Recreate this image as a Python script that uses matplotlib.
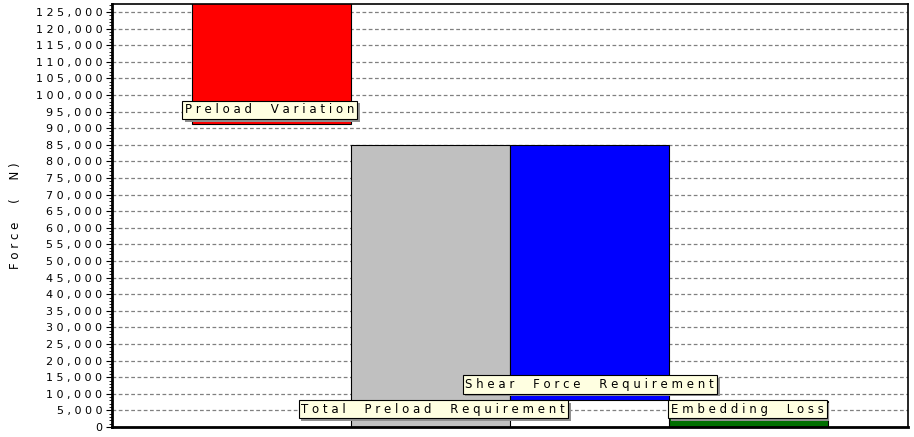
import matplotlib
matplotlib.use("Agg")
import matplotlib.pyplot as plt
import matplotlib.patheffects as pe
from matplotlib.ticker import MultipleLocator, FuncFormatter

# waterfall segments (N): bottom and top of each floating bar
categories = ["Preload Variation", "Total Preload Requirement",
              "Shear Force Requirement", "Embedding Loss"]
bar_bottom = [91300, 0, 8200, 0]
bar_top = [135000, 85000, 85000, 7700]
bar_colors = ["#FF0000", "#C0C0C0", "#0000FF", "#006F00"]

# label anchors (left edge x, centre y) in data units
label_x = [0.46, 1.19, 2.22, 3.51]
label_y = [95500, 5400, 12900, 5400]

Y_MAX = 127400


def spaced(s):
    # the original chart font is letter-spaced, with wide word gaps
    return " ".join(s.replace(" ", "  "))


fig = plt.figure(figsize=(9.14, 4.37), dpi=100)
ax = fig.add_axes([112 / 914, 10 / 437, 796 / 914, 423 / 437])

pos = [1, 2, 3, 4]
heights = [t - b for t, b in zip(bar_top, bar_bottom)]
ax.bar(pos, heights, bottom=bar_bottom, width=1.0, color=bar_colors,
       edgecolor="black", linewidth=0.8, zorder=2)

ax.set_xlim(0, 5.0)
ax.set_ylim(0, Y_MAX)
ax.yaxis.set_major_locator(MultipleLocator(5000))
ax.yaxis.set_minor_locator(MultipleLocator(1000))
ax.yaxis.set_major_formatter(FuncFormatter(lambda v, p: " ".join(f"{int(v):,}")))
ax.set_xticks([])
ax.grid(axis="y", color="#808080", linestyle=(0, (3, 2)), linewidth=0.9, zorder=0)
ax.set_axisbelow(True)
ax.tick_params(axis="y", which="major", length=4, width=0.8, labelsize=8, pad=3)
ax.tick_params(axis="y", which="minor", length=2, width=0.6)
for side in ("left", "bottom"):
    ax.spines[side].set_linewidth(2)
for side in ("top", "right"):
    ax.spines[side].set_linewidth(1.2)

ax.set_ylabel(spaced("Force ( N)"), fontsize=8.5)
ax.yaxis.set_label_coords(-0.113, 0.5)

for name, lx, ly in zip(categories, label_x, label_y):
    t = ax.text(lx, ly, spaced(name), fontsize=8.5, va="center", ha="left", color="black",
                zorder=5, clip_on=False,
                bbox=dict(boxstyle="square,pad=0.24", fc="#FFFFE1", ec="black", lw=0.8))
    t.get_bbox_patch().set_path_effects(
        [pe.SimplePatchShadow(offset=(2, -2), shadow_rgbFace="#909090", alpha=1.0),
         pe.Normal()])

fig.savefig("out.png", dpi=100)
